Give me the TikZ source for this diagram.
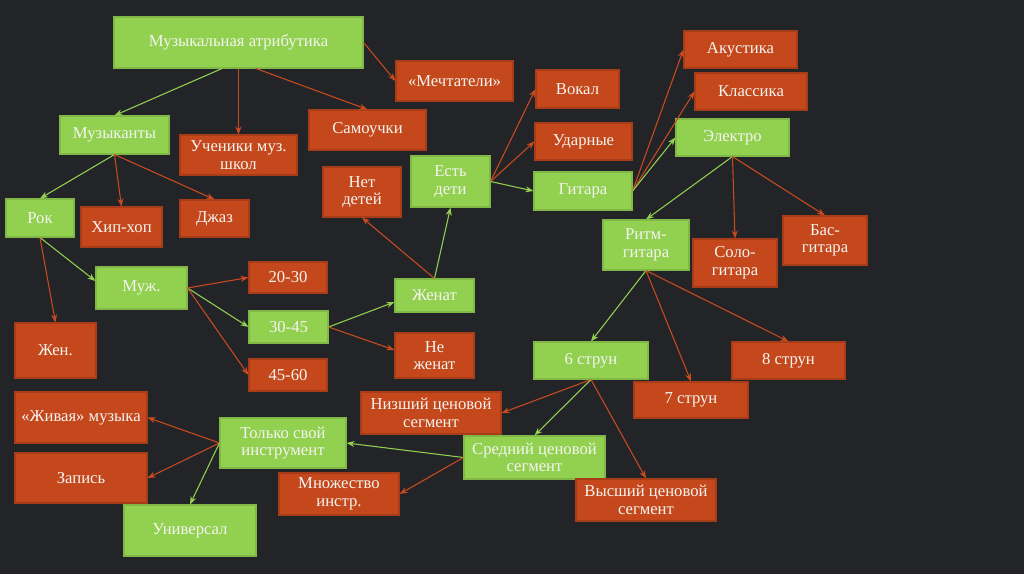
\documentclass[tikz,border=0pt]{standalone}
\usepackage{fontspec}
\setmainfont{Liberation Serif}
\usetikzlibrary{arrows.meta}
\definecolor{bg}{RGB}{35,36,40}
\definecolor{gfill}{RGB}{146,208,80}
\definecolor{rfill}{RGB}{196,72,28}
\definecolor{gline}{RGB}{146,208,80}
\definecolor{rline}{RGB}{200,74,30}
\definecolor{txt}{RGB}{244,244,240}
\tikzset{
  box/.style={rectangle, inner sep=1pt, align=center, text=txt, line width=0.8pt,
    font=\fontsize{12.5}{13.2}\selectfont},
  gbox/.style={box, fill=gfill, draw=gfill!88!black},
  rbox/.style={box, fill=rfill, draw=rfill!85!black},
  sz/.style 2 args={minimum width=#1*0.75pt, minimum height=#2*0.75pt},
  garr/.style={draw=gline, line width=0.8pt, -{Stealth[length=6pt,width=4.5pt]}},
  rarr/.style={draw=rline, line width=0.8pt, -{Stealth[length=6pt,width=4.5pt]}}
}
\begin{document}
\begin{tikzpicture}[x=0.75pt,y=-0.75pt]
\fill[bg] (0,0) rectangle (1024,574);
\useasboundingbox (0,0) rectangle (1024,574);

\node[gbox, sz={249}{51}] (attr) at (238.5,42.5) {Музыкальная атрибутика};
\node[rbox, sz={117}{40}] (mecht) at (454.5,81) {«Мечтатели»};
\node[gbox, sz={109}{38}] (muz) at (114.5,135) {Музыканты};
\node[rbox, sz={117}{40}] (uchen) at (238.5,155) {Ученики муз.\\школ};
\node[rbox, sz={117}{40}] (samo) at (367.5,130) {Самоучки};
\node[gbox, sz={68}{38}] (rok) at (40,218) {Рок};
\node[rbox, sz={81}{40}] (hip) at (121.5,227) {Хип-хоп};
\node[rbox, sz={69}{37}] (jazz) at (214.5,218.5) {Джаз};
\node[rbox, sz={78}{50}] (netd) at (362,192) {Нет\\детей};
\node[gbox, sz={79}{51}] (estd) at (450.5,181.5) {Есть\\дети};
\node[gbox, sz={91}{42}] (muzh) at (141.5,288) {Муж.};
\node[rbox, sz={78}{31}] (a2030) at (288,277.5) {20-30};
\node[gbox, sz={79}{32}] (a3045) at (288.5,327) {30-45};
\node[rbox, sz={78}{32}] (a4560) at (288,375) {45-60};
\node[rbox, sz={81}{55}] (zhen) at (55.5,350.5) {Жен.};
\node[gbox, sz={79}{33}] (zhenat) at (434.5,295.5) {Женат};
\node[rbox, sz={79}{45}] (nezh) at (434.5,355.5) {Не\\женат};
\node[rbox, sz={140}{42}] (nizsh) at (431,413) {Низший ценовой\\сегмент};
\node[gbox, sz={141}{43}] (sred) at (534.5,457.5) {Средний ценовой\\сегмент};
\node[rbox, sz={120}{42}] (mnozh) at (339,494) {Множество\\инстр.};
\node[gbox, sz={126}{50}] (tolko) at (283,443) {Только свой\\инструмент};
\node[rbox, sz={132}{51}] (zhiv) at (81,417.5) {«Живая» музыка};
\node[rbox, sz={132}{50}] (zapis) at (81,478) {Запись};
\node[gbox, sz={132}{51}] (univ) at (190,530.5) {Универсал};
\node[rbox, sz={140}{42}] (vyssh) at (646,500) {Высший ценовой\\сегмент};
\node[gbox, sz={114}{37}] (s6) at (591,360.5) {6 струн};
\node[rbox, sz={114}{36}] (s7) at (691,400) {7 струн};
\node[rbox, sz={113}{37}] (s8) at (788.5,360.5) {8 струн};
\node[rbox, sz={83}{38}] (vokal) at (577.5,89) {Вокал};
\node[rbox, sz={97}{37}] (udar) at (583.5,141.5) {Ударные};
\node[gbox, sz={98}{38}] (gitara) at (583,191) {Гитара};
\node[rbox, sz={113}{37}] (akust) at (740.5,49.5) {Акустика};
\node[rbox, sz={112}{37}] (klass) at (751,91.5) {Классика};
\node[gbox, sz={113}{37}] (elektro) at (732.5,137.5) {Электро};
\node[gbox, sz={86}{50}] (ritm) at (646,245) {Ритм-\\гитара};
\node[rbox, sz={84}{48}] (solo) at (735,263) {Соло-\\гитара};
\node[rbox, sz={84}{49}] (bas) at (825,240.5) {Бас-\\гитара};

\draw[garr] ([xshift=-16.5*0.75pt]attr.south) -- (muz.north);
\draw[rarr] (attr.south) -- (uchen.north);
\draw[rarr] ([xshift=17.5*0.75pt]attr.south) -- (samo.north);
\draw[rarr] (attr.east) -- (mecht.west);
\draw[garr] (muz.south) -- (rok.north);
\draw[rarr] (muz.south) -- (hip.north);
\draw[rarr] (muz.south) -- (jazz.north);
\draw[garr] (rok.south) -- ([yshift=7*0.75pt]muzh.west);
\draw[rarr] (rok.south) -- (zhen.north);
\draw[rarr] (muzh.east) -- (a2030.west);
\draw[garr] (muzh.east) -- (a3045.west);
\draw[rarr] (muzh.east) -- (a4560.west);
\draw[garr] (a3045.east) -- ([yshift=-6.5*0.75pt]zhenat.west);
\draw[rarr] (a3045.east) -- ([yshift=5.5*0.75pt]nezh.west);
\draw[garr] (zhenat.north) -- (estd.south);
\draw[rarr] (zhenat.north) -- (netd.south);
\draw[rarr] (estd.east) -- (vokal.west);
\draw[rarr] (estd.east) -- (udar.west);
\draw[garr] (estd.east) -- (gitara.west);
\draw[rarr] (gitara.east) -- (akust.west);
\draw[rarr] (gitara.east) -- (klass.west);
\draw[garr] (gitara.east) -- (elektro.west);
\draw[garr] (elektro.south) -- (ritm.north);
\draw[rarr] (elektro.south) -- (solo.north);
\draw[rarr] (elektro.south) -- (bas.north);
\draw[garr] (ritm.south) -- (s6.north);
\draw[rarr] (ritm.south) -- (s7.north);
\draw[rarr] (ritm.south) -- (s8.north);
\draw[rarr] (s6.south) -- (nizsh.east);
\draw[garr] (s6.south) -- (sred.north);
\draw[rarr] (s6.south) -- (vyssh.north);
\draw[garr] (sred.west) -- (tolko.east);
\draw[rarr] (sred.west) -- (mnozh.east);
\draw[rarr] (tolko.west) -- (zhiv.east);
\draw[rarr] (tolko.west) -- (zapis.east);
\draw[garr] (tolko.west) -- (univ.north);
\end{tikzpicture}
\end{document}
